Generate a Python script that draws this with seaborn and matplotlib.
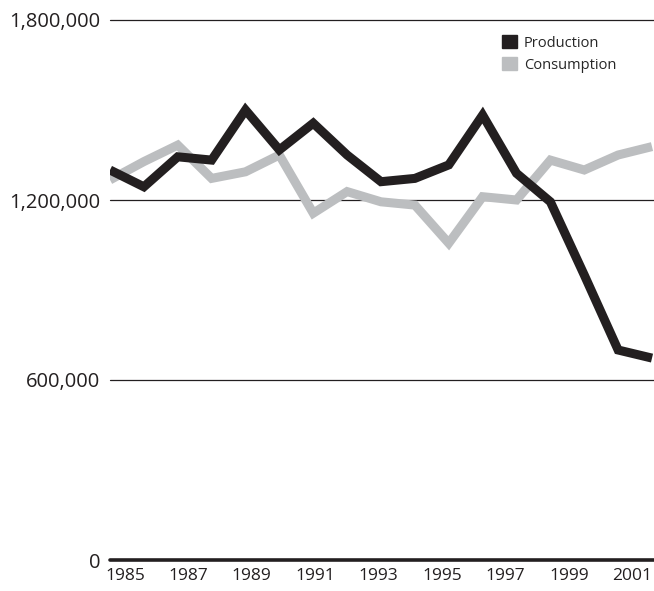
import matplotlib
matplotlib.use('Agg')
import matplotlib.pyplot as plt
from matplotlib.patches import Patch
import numpy as np
import pandas as pd
import seaborn as sns

# Values
years = list(range(1985, 2002))
production = [1300000, 1244000, 1344000, 1333000, 1500000, 1367000, 1456000, 1350000, 1261000,
              1272000, 1317000, 1483000, 1289000, 1194000, 950000, 700000, 673000]
consumption = [1267000, 1328000, 1383000, 1272000, 1294000, 1350000, 1156000, 1228000, 1194000,
               1183000, 1056000, 1211000, 1200000, 1333000, 1300000, 1350000, 1378000]
tick_years = [1985, 1987, 1989, 1991, 1993, 1995, 1997, 1999, 2001]
y_ticks = [0, 600000, 1200000, 1800000]

df = pd.DataFrame({'year': years * 2,
                   'value': consumption + production,
                   'series': ['Consumption'] * len(years) + ['Production'] * len(years)})

sns.set_style('white')
plt.rcParams['font.family'] = ['Open Sans', 'DejaVu Sans']

black = '#231f20'
gray = '#bcbec0'

fig = plt.figure(figsize=(6.54, 5.91), dpi=100)
ax = fig.add_axes([110 / 654, 31 / 591, 544 / 654, 540 / 591])

sns.lineplot(data=df, x='year', y='value', hue='series', hue_order=['Consumption', 'Production'],
             palette={'Consumption': gray, 'Production': black}, linewidth=6.5,
             solid_joinstyle='miter', solid_capstyle='butt', legend=False, ax=ax, zorder=3)

ax.set_xlim(1985, 2001 + 2 / 33.9)
ax.set_ylim(0, 1800000)

# gridlines
for v in y_ticks[1:]:
    ax.axhline(v, color=black, lw=0.9, zorder=1, clip_on=False)
ax.axhline(0, color=black, lw=2.6, zorder=2, clip_on=False)

for s in ax.spines.values():
    s.set_visible(False)

ax.set_yticks(y_ticks)
ax.set_yticklabels([f'{v:,}' for v in y_ticks], fontsize=14.5, color=black)
# year labels are spread evenly, pulled in a little at both ends (as in the original)
ax.set_xticks(np.linspace(tick_years[0] + 0.44, tick_years[-1] - 0.58, len(tick_years)))
ax.set_xticklabels([str(y) for y in tick_years], fontsize=12.5, color=black)
ax.tick_params(axis='y', length=0, pad=7)
ax.tick_params(axis='x', length=0, pad=6)
ax.set_xlabel('')
ax.set_ylabel('')

handles = [Patch(color=black, label='Production'), Patch(color=gray, label='Consumption')]
ax.legend(handles=handles, loc='upper left', bbox_to_anchor=(502 / 654, 1 - 35 / 591),
          bbox_transform=fig.transFigure, frameon=False, fontsize=10.5, handlelength=1.0,
          handleheight=1.0, handletextpad=0.5, labelspacing=0.45, borderaxespad=0, borderpad=0)

fig.savefig('out.png', dpi=100)
